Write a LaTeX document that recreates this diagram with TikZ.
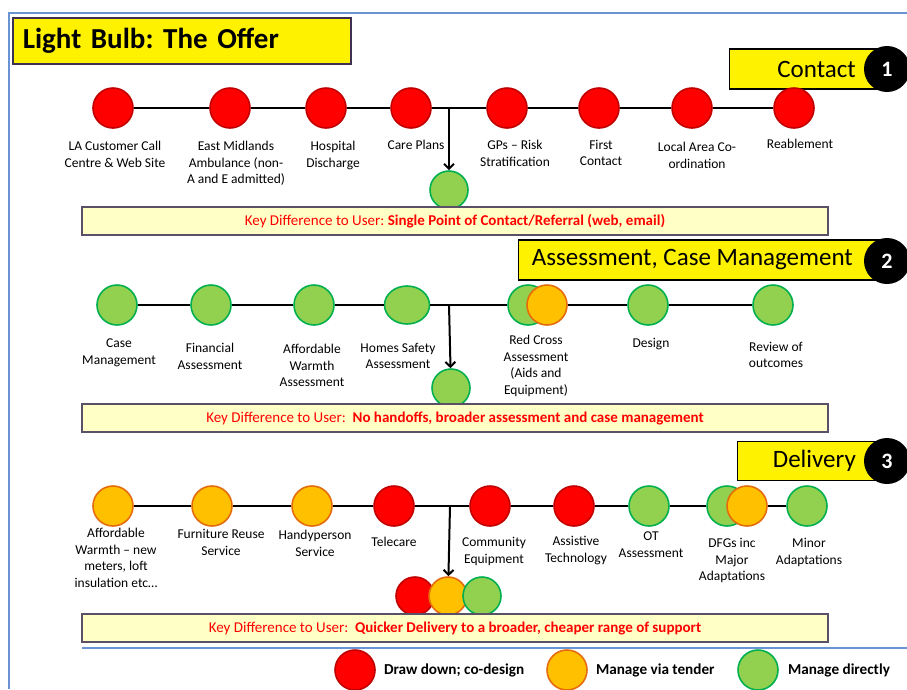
\documentclass[tikz,border=0pt]{standalone}
\usepackage{fontspec}
\setmainfont{Carlito}
\usetikzlibrary{positioning,arrows.meta,shapes.geometric}

\definecolor{ddfill}{HTML}{FF0000}
\definecolor{ddline}{HTML}{C00000}
\definecolor{tdfill}{HTML}{FFC000}
\definecolor{tdline}{HTML}{E46C0A}
\definecolor{mdfill}{HTML}{92D050}
\definecolor{mdline}{HTML}{00B050}
\definecolor{frameblue}{HTML}{6A93D4}
\definecolor{barfill}{HTML}{FFFFC6}
\definecolor{barline}{HTML}{5A5068}
\definecolor{titleline}{HTML}{3F3151}

\tikzset{
	dot/.style={circle,minimum size=40pt,inner sep=0pt,line width=1.6pt},
	drawdown/.style={dot,fill=ddfill,draw=ddline},
	tender/.style={dot,fill=tdfill,draw=tdline},
	direct/.style={dot,fill=mdfill,draw=mdline},
	lbl/.style={align=center,inner sep=0pt,anchor=north,font=\fontsize{13.5}{16.5}\selectfont},
	link/.style={line width=2pt},
	drop/.style={line width=2pt,-{Straight Barb[length=5pt,width=10pt,line width=2pt]}},
	keybar/.style={draw=barline,fill=barfill,line width=1.4pt,minimum width=746pt,minimum height=28pt,inner sep=0pt,text=red,font=\fontsize{15}{17}\selectfont},
	stagebox/.style={draw=black,fill=yellow,line width=1.4pt,inner sep=0pt,anchor=west},
	stagetext/.style={anchor=east,inner sep=0pt,font=\fontsize{25}{28}\selectfont},
	badge/.style={circle,fill=black,text=white,minimum size=46pt,inner sep=0pt,font=\bfseries\fontsize{22}{24}\selectfont},
	frame/.style={draw=frameblue,line width=1.4pt},
	keytext/.style={anchor=west,inner sep=0pt,font=\bfseries\fontsize{15.2}{17}\selectfont},
}

\begin{document}
\frenchspacing
\begin{tikzpicture}[x=1pt,y=-1pt]
	\useasboundingbox (0,0) rectangle (907,689);
	\draw[frame] (9,689) -- (9,13) -- (907,13);
	\draw[frame] (82,648) -- (907,648);

	\node[draw=titleline,fill=yellow,line width=1.6pt,anchor=north west,text width=318pt,inner xsep=10pt,align=left,minimum height=46pt,font=\bfseries\fontsize{29}{32}\selectfont] (title) at (12,17) {Light Bulb: The Offer};

	% stage 1
	\node[stagebox,minimum width=158pt,minimum height=40pt] (s1) at (729,69) {};
	\node[stagetext] (s1t) at (856,69) {Contact};
	\node[badge] (n1) at (887,69) {1};

	\foreach \n/\x in {a1/113,a2/230,a3/326,a4/411,a5/507,a6/599,a7/692,a8/794}
		\node[drawdown] (\n) at (\x,108) {};
	\foreach \p/\q in {a1/a2,a2/a3,a3/a4,a4/a5,a5/a6,a6/a7,a7/a8}
		\draw[link] (\p) -- (\q);
	\coordinate (j1) at (449,108);
	\node[direct,minimum size=38pt] (t1) at (449,190) {};
	\draw[drop] (j1) -- (t1);

	\node[lbl] (la1) at (115,141) {LA Customer Call\\Centre \& Web Site};
	\node[lbl] (la2) at (236,141) {East Midlands\\Ambulance (non-\\A and E admitted)};
	\node[lbl] (la3) at (333,141) {Hospital\\Discharge};
	\node[lbl] (la4) at (416,140) {Care Plans};
	\node[lbl] (la5) at (515,140) {GPs – Risk\\Stratification};
	\node[lbl] (la6) at (601,140) {First\\Contact};
	\node[lbl] (la7) at (697,142) {Local Area Co-\\ordination};
	\node[lbl] (la8) at (800,139) {Reablement};

	\node[keybar] (k1) at (455,221) {Key Difference to User: \textbf{Single Point of Contact/Referral (web, email)}};

	% stage 2
	\node[stagebox,minimum width=369pt,minimum height=40pt] (s2) at (518,260) {};
	\node[stagetext] (s2t) at (853,260) {Assessment, Case Management};
	\node[badge] (n2) at (887,261) {2};

	\foreach \n/\x in {b1/117,b2/211,b3/314,b5/528,b6/648,b7/773}
		\node[direct] (\n) at (\x,305) {};
	\node[direct,ellipse,minimum width=45pt,minimum height=38pt] (b4) at (407,305) {};
	\node[tender] (b5t) at (547,305) {};
	\foreach \p/\q in {b1/b2,b2/b3,b3/b4,b4/b5,b5t/b6,b6/b7}
		\draw[link] (\p) -- (\q);
	\coordinate (j2) at (449,305);
	\node[direct,minimum size=38pt] (t2) at (451,388) {};
	\draw[drop] (j2) -- (t2);

	\node[lbl] (lb1) at (119,339) {Case\\Management};
	\node[lbl] (lb2) at (210,343) {Financial\\Assessment};
	\node[lbl] (lb3) at (312,344) {Affordable\\Warmth\\Assessment};
	\node[lbl] (lb4) at (398,343) {Homes Safety\\Assessment};
	\node[lbl] (lb5) at (536,335) {Red Cross\\Assessment\\(Aids and\\Equipment)};
	\node[lbl] (lb6) at (651,338) {Design};
	\node[lbl] (lb7) at (776,342) {Review of\\outcomes};

	\node[keybar] (k2) at (455,418) {Key Difference to User:\ \ \textbf{No handoffs, broader assessment and case management}};

	% stage 3
	\node[stagebox,minimum width=150pt,minimum height=39pt] (s3) at (737,461) {};
	\node[stagetext] (s3t) at (856,461) {Delivery};
	\node[badge] (n3) at (887,461) {3};

	\foreach \n/\x in {c1/113,c2/212,c3/312}
		\node[tender] (\n) at (\x,506) {};
	\foreach \n/\x in {c4/394,c5/490,c6/574}
		\node[drawdown] (\n) at (\x,506) {};
	\foreach \n/\x in {c7/649,c8/727,c10/807}
		\node[direct] (\n) at (\x,506) {};
	\node[tender] (c9) at (747,506) {};
	\foreach \p/\q in {c1/c2,c2/c3,c3/c4,c4/c5,c5/c6,c6/c7,c7/c8,c9/c10}
		\draw[link] (\p) -- (\q);
	\coordinate (j3) at (450,506);
	\node[drawdown,minimum size=38pt] (d1) at (415,596) {};
	\node[tender,minimum size=38pt] (d2) at (448,596) {};
	\node[direct,minimum size=38pt] (d3) at (482,596) {};
	\draw[drop] (j3) -- (d2);

	\node[lbl] (lc1) at (116,528) {Affordable\\Warmth – new\\meters, loft\\insulation etc…};
	\node[lbl] (lc2) at (221,529) {Furniture Reuse\\Service};
	\node[lbl] (lc3) at (315,530) {Handyperson\\Service};
	\node[lbl] (lc4) at (394,537) {Telecare};
	\node[lbl] (lc5) at (494,537) {Community\\Equipment};
	\node[lbl] (lc6) at (576,536) {Assistive\\Technology};
	\node[lbl] (lc7) at (651,532) {OT\\Assessment};
	\node[lbl] (lc8) at (732,538) {DFGs inc\\Major\\Adaptations};
	\node[lbl] (lc9) at (809,538) {Minor\\Adaptations};

	\node[keybar] (k3) at (455,628) {Key Difference to User:\ \ \textbf{Quicker Delivery to a broader, cheaper range of support}};

	% legend
	\node[drawdown] (g1) at (355,670) {};
	\node[keytext,right=8pt of g1] (g1t) {Draw down; co-design};
	\node[tender] (g2) at (567,670) {};
	\node[keytext,right=8pt of g2] (g2t) {Manage via tender};
	\node[direct] (g3) at (758,670) {};
	\node[keytext,right=9pt of g3] (g3t) {Manage directly};
\end{tikzpicture}
\end{document}
